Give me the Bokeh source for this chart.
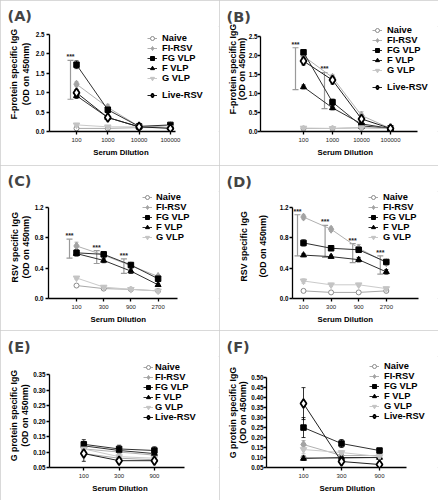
from bokeh.plotting import figure
from bokeh.models import (Range1d, FixedTicker, Legend, LegendItem, Whisker, TeeHead,
                          ColumnDataSource, PrintfTickFormatter, Title)
from bokeh.layouts import column, row
from bokeh.core.properties import value
from bokeh.embed import file_html
from bokeh.resources import INLINE

# ---------------- data ----------------
series = ["Naive", "FI-RSV", "FG VLP", "F VLP", "G VLP", "Live-RSV"]

dil_ab = ["100", "1000", "10000", "100000"]
dil_cd = ["100", "300", "900", "2700"]
dil_ef = ["100", "300", "900"]

# (A) F-protein specific IgG
a_naive = [0.08, 0.08, 0.10, 0.10]
a_fi = [1.22, 0.62, 0.13, 0.15]
a_fg = [1.72, 0.56, 0.13, 0.17]
a_f = [0.92, 0.36, 0.12, 0.10]
a_g = [0.17, 0.12, 0.12, 0.10]
a_live = [1.00, 0.36, 0.12, 0.08]
a_err = {"Naive": [0.02, 0.01, 0.01, 0.01], "FI-RSV": [0.06, 0.08, 0.02, 0.03],
         "FG VLP": [0.10, 0.08, 0.03, 0.03], "F VLP": [0.07, 0.05, 0.02, 0.02],
         "G VLP": [0.04, 0.02, 0.02, 0.02], "Live-RSV": [0.08, 0.05, 0.03, 0.02]}
a_sig_idx = [0]
a_sig_lo = [0.83]
a_sig_hi = [1.83]

# (B) F-protein specific IgG
b_naive = [0.08, 0.08, 0.10, 0.08]
b_fi = [1.98, 1.42, 0.42, 0.08]
b_fg = [2.08, 0.77, 0.15, 0.08]
b_f = [1.17, 0.62, 0.20, 0.08]
b_g = [0.09, 0.08, 0.10, 0.08]
b_live = [1.85, 1.35, 0.33, 0.08]
b_err = {"Naive": [0.01, 0.01, 0.01, 0.01], "FI-RSV": [0.05, 0.08, 0.10, 0.02],
         "FG VLP": [0.05, 0.08, 0.03, 0.02], "F VLP": [0.05, 0.05, 0.04, 0.02],
         "G VLP": [0.02, 0.02, 0.02, 0.02], "Live-RSV": [0.10, 0.10, 0.06, 0.02]}
b_sig_idx = [0, 1]
b_sig_lo = [1.10, 0.60]
b_sig_hi = [2.20, 1.55]

# (C) RSV specific IgG
c_naive = [0.17, 0.13, 0.12, 0.10]
c_fi = [0.69, 0.57, 0.43, 0.29]
c_fg = [0.60, 0.58, 0.44, 0.26]
c_f = [0.59, 0.50, 0.36, 0.18]
c_g = [0.27, 0.15, 0.12, 0.10]
c_err = {"Naive": [0.01, 0.01, 0.01, 0.01], "FI-RSV": [0.05, 0.04, 0.03, 0.02],
         "FG VLP": [0.04, 0.03, 0.03, 0.02], "F VLP": [0.03, 0.03, 0.03, 0.02],
         "G VLP": [0.02, 0.02, 0.01, 0.01]}
c_sig_idx = [0, 1, 2]
c_sig_lo = [0.53, 0.46, 0.33]
c_sig_hi = [0.78, 0.63, 0.52]

# (D) RSV specific IgG
d_naive = [0.10, 0.08, 0.08, 0.10]
d_fi = [1.07, 0.91, 0.66, 0.47]
d_fg = [0.73, 0.66, 0.64, 0.48]
d_f = [0.57, 0.55, 0.51, 0.35]
d_g = [0.23, 0.18, 0.18, 0.13]
d_err = {"Naive": [0.02, 0.01, 0.01, 0.02], "FI-RSV": [0.03, 0.03, 0.05, 0.03],
         "FG VLP": [0.04, 0.02, 0.03, 0.03], "F VLP": [0.02, 0.02, 0.03, 0.03],
         "G VLP": [0.03, 0.02, 0.02, 0.02]}
d_sig_idx = [0, 1, 2, 3]
d_sig_lo = [0.56, 0.54, 0.47, 0.32]
d_sig_hi = [1.10, 0.96, 0.72, 0.56]

# (E) G protein specific IgG
e_naive = [0.095, 0.080, 0.075]
e_fi = [0.110, 0.100, 0.090]
e_fg = [0.125, 0.110, 0.105]
e_f = [0.120, 0.105, 0.095]
e_g = [0.110, 0.085, 0.080]
e_live = [0.095, 0.072, 0.072]
e_err = {"Naive": [0.010, 0.005, 0.005], "FI-RSV": [0.010, 0.010, 0.010],
         "FG VLP": [0.015, 0.012, 0.012], "F VLP": [0.010, 0.010, 0.010],
         "G VLP": [0.010, 0.010, 0.010], "Live-RSV": [0.025, 0.005, 0.005]}

# (F) G protein specific IgG
f_naive = [0.100, 0.095, 0.100]
f_fi = [0.165, 0.110, 0.110]
f_fg = [0.250, 0.170, 0.135]
f_f = [0.095, 0.100, 0.100]
f_g = [0.140, 0.125, 0.105]
f_live = [0.370, 0.080, 0.065]
f_err = {"Naive": [0.005, 0.005, 0.005], "FI-RSV": [0.020, 0.010, 0.010],
         "FG VLP": [0.050, 0.020, 0.010], "F VLP": [0.010, 0.010, 0.010],
         "G VLP": [0.020, 0.010, 0.010], "Live-RSV": [0.080, 0.010, 0.005]}

# ---------------- styles / layout ----------------
COL_W = 219
ROW_H = [165, 165, 170]
FONT = "Liberation Sans"
YL_FS = 8.8      # y-label font size
XL_FS = 7.8
ROWH = 10        # legend row height

STY = {
    "Naive":    dict(marker="circle", size=5, fill="white", mline="#8a8a8a", mw=1.0, line="#a8a8a8"),
    "FI-RSV":   dict(marker="diamond", size=8, fill="#a3a3a3", mline="#a3a3a3", mw=1.0, line="#b0b0b0"),
    "FG VLP":   dict(marker="square", size=5.5, fill="black", mline="black", mw=1.0, line="#303030"),
    "F VLP":    dict(marker="triangle", size=6, fill="black", mline="black", mw=1.0, line="#303030"),
    "G VLP":    dict(marker="inverted_triangle", size=6.5, fill="#c4c4c4", mline="#c4c4c4", mw=1.0, line="#cacaca"),
    "Live-RSV": dict(marker="diamond", size=9, fill="white", mline="black", mw=1.8, line="#202020"),
}

# Arial/Liberation Sans Bold advance widths (per 1000 em) for label length estimates
AW = {" ": 278, "(": 333, ")": 333, "-": 333, ".": 278, "0": 556, "4": 556, "5": 556,
      "D": 722, "F": 611, "G": 778, "I": 278, "O": 778, "R": 722, "S": 667, "V": 667,
      "c": 556, "e": 556, "f": 333, "g": 611, "i": 278, "m": 889, "n": 611, "o": 611,
      "p": 611, "r": 389, "s": 556, "t": 333, "u": 611, "l": 278}


def tw(s, fs):
    return sum(AW.get(ch, 600) for ch in s) / 1000.0 * fs


# axis geometry in panel pixels; s2/s1 = standoffs of the two y-label lines, ft = frame top
GEOM = {
    "A": dict(left=49, right=175, top=34, bottom=132, x0=76, dx=31.3, mls=2, ft=26,
              s2=0, s1=0, yc=74.5, xl=92.7, sig_dx=-6, tb=28),
    "B": dict(left=41, right=198, top=34, bottom=131, x0=84, dx=29, mls=0, ft=24,
              s2=-6, s1=0, yc=68.5, xl=98, sig_dx=-8, tb=28),
    "C": dict(left=48, right=177, top=41.7, bottom=133.3, x0=76, dx=27.2, mls=2, ft=26,
              s2=-2, s1=0, yc=81.7, xl=90, sig_dx=-7, tb=28),
    "D": dict(left=72.7, right=199, top=41.7, bottom=133.3, x0=84, dx=27.6, mls=1, ft=26,
              s2=14, s1=0, yc=80.8, xl=98, sig_dx=-6, tb=30),
    "E": dict(left=49.3, right=184, top=44.3, bottom=137.3, x0=83.3, dx=35.3, mls=1, ft=26,
              s2=-2, s1=0, yc=85, xl=91.7, sig_dx=-6, tb=30),
    "F": dict(left=46.7, right=187, top=47.7, bottom=140, x0=84, dx=38, mls=0, ft=26,
              s2=-3, s1=0, yc=85, xl=100, sig_dx=-6, tb=30),
}
LEG = {
    "A": dict(gx=147, tx=162, y0=41.7, live=98.3),
    "B": dict(gx=153, tx=168, y0=32, live=89),
    "C": dict(gx=142, tx=156, y0=34.3, live=None),
    "D": dict(gx=149, tx=164, y0=34.3, live=None),
    "E": dict(gx=143, tx=155, y0=39.3, live=None),
    "F": dict(gx=150, tx=165, y0=41.7, live=None),
}


def make_legend(items, gx, tx, center0, L, B):
    n = len(items)
    gw = 10
    top = center0 - ROWH / 2 - 2.5
    return Legend(items=items, location=(gx - L, B - (top + n * ROWH)),
                  orientation="vertical", padding=0, margin=0, spacing=0,
                  glyph_width=gw, glyph_height=ROWH, label_height=ROWH,
                  label_standoff=round(tx - gx - gw),
                  label_text_font=FONT, label_text_font_style="bold",
                  label_text_font_size="9.3px", label_text_color="black",
                  border_line_color=None, background_fill_alpha=0)


def make_panel(letter, rowi, ylabel, cats, data, errs, ylim, yticks, yfmt,
               sig_idx=None, sig_lo=None, sig_hi=None):
    g = GEOM[letter]
    W = COL_W
    H = ROW_H[rowi]
    FT = g["ft"]
    L = round(g["left"])
    B = round(g["bottom"])
    ymin, ymax = ylim
    ppu = (g["bottom"] - g["top"]) / (ymax - ymin)
    yend = ymax + (g["top"] - FT) / ppu
    xs = (L - g["x0"]) / g["dx"]
    xe = (W - g["x0"]) / g["dx"]
    xaxis_end = (g["right"] - g["x0"]) / g["dx"]
    p = figure(width=W, height=H, x_range=Range1d(xs, xe), y_range=Range1d(ymin, yend),
               output_backend="svg", toolbar_location=None, title="(%s)" % letter,
               min_border_left=L, min_border_right=0,
               min_border_top=FT, min_border_bottom=H - B,
               styles={"outline": "1px solid #cccccc", "outline-offset": "-1px"})
    p.title.text_font = "DejaVu Sans"
    p.title.text_font_size = "14.5px"
    p.title.text_font_style = "bold"
    p.title.align = "left"
    p.title.vertical_align = "top"
    p.title.offset = 7 - L
    p.title.standoff = max(0, round(FT + 3 - g["tb"]))
    p.outline_line_color = None
    p.xgrid.visible = False
    p.ygrid.visible = False

    for ax in (p.xaxis[0], p.yaxis[0]):
        ax.axis_line_color = "black"
        ax.axis_line_width = 1.3
        ax.major_tick_line_color = "black"
        ax.major_tick_line_width = 1.3
        ax.major_tick_out = 3
        ax.major_tick_in = 0
        ax.minor_tick_line_color = None
        ax.major_label_text_font = FONT
        ax.axis_label = None
    xa = p.xaxis[0]
    xa.bounds = (xs, xaxis_end)
    xa.ticker = FixedTicker(ticks=list(range(len(cats))))
    xa.major_label_overrides = {i: c for i, c in enumerate(cats)}
    xa.major_label_text_font_size = "6px"
    xa.major_label_text_color = "#222222"
    xa.major_label_standoff = 3
    ya = p.yaxis[0]
    ya.bounds = (ymin, ymax)
    ya.ticker = FixedTicker(ticks=yticks)
    ya.formatter = PrintfTickFormatter(format=yfmt)
    ya.major_label_text_font_size = "6.3px"
    ya.major_label_text_font_style = "bold"
    ya.major_label_text_color = "black"
    ya.major_label_standoff = g["mls"]

    # y label as two stacked side titles (inner line first)
    line2 = "(OD on 450nm)"
    for txt, st in ((line2, g["s2"]), (ylabel, g["s1"])):
        t = Title(text=txt, align="left", vertical_align="top",
                  offset=B - (g["yc"] + tw(txt, YL_FS) / 2), standoff=st,
                  text_font=FONT, text_font_style="bold", text_font_size="%.1fpx" % YL_FS,
                  text_color="black")
        p.add_layout(t, "left")
    # x label as a side title below the axis
    xt = Title(text="Serum Dilution", align="left", vertical_align="bottom",
               offset=g["xl"] - L, standoff=3, text_font=FONT, text_font_style="bold",
               text_font_size="%.1fpx" % XL_FS, text_color="black")
    p.add_layout(xt, "below")

    x = list(range(len(cats)))
    if sig_idx:
        off = g["sig_dx"] / g["dx"]
        ssrc = ColumnDataSource(dict(x=[i + off for i in sig_idx], lo=sig_lo, hi=sig_hi,
                                     t=["***"] * len(sig_idx)))
        p.add_layout(Whisker(source=ssrc, base="x", upper="hi", lower="lo",
                             line_color="#9a9a9a", line_width=1.2,
                             upper_head=TeeHead(size=6, line_color="#9a9a9a", line_width=1.2),
                             lower_head=TeeHead(size=6, line_color="#9a9a9a", line_width=1.2)))
        p.text(x="x", y="hi", text="t", source=ssrc, text_font=value(FONT),
               text_font_style="bold", text_font_size="7px", text_align="center",
               text_baseline="bottom", y_offset=0, text_color="#222222")

    items = {}
    for name in data:
        ys = data[name]
        st = STY[name]
        es = errs[name]
        esrc = ColumnDataSource(dict(x=x, lo=[v - e for v, e in zip(ys, es)],
                                     hi=[v + e for v, e in zip(ys, es)]))
        ec = st["mline"] if name != "Naive" else "#9a9a9a"
        p.add_layout(Whisker(source=esrc, base="x", upper="hi", lower="lo",
                             line_color=ec, line_width=0.8,
                             upper_head=TeeHead(size=4, line_color=ec, line_width=0.8),
                             lower_head=TeeHead(size=4, line_color=ec, line_width=0.8)))
        lr = p.line(x, ys, line_color=st["line"], line_width=1)
        sr = p.scatter(x, ys, marker=st["marker"], size=st["size"], fill_color=st["fill"],
                       line_color=st["mline"], line_width=st["mw"])
        items[name] = LegendItem(label=name, renderers=[lr, sr])

    lg = LEG[letter]
    names = [n for n in data if n != "Live-RSV"] if lg["live"] else list(data)
    p.add_layout(make_legend([items[n] for n in names], lg["gx"], lg["tx"], lg["y0"], L, B),
                 "center")
    if lg["live"]:
        p.add_layout(make_legend([items["Live-RSV"]], lg["gx"], lg["tx"], lg["live"], L, B),
                     "center")
    return p


def pack(*cols):
    return {n: c for n, c in zip(series, cols)}


pA = make_panel("A", 0, "F-protein specific IgG", dil_ab,
                pack(a_naive, a_fi, a_fg, a_f, a_g, a_live), a_err,
                (0, 2.5), [0, 0.5, 1.0, 1.5, 2.0, 2.5], "%.1f", a_sig_idx, a_sig_lo, a_sig_hi)
pB = make_panel("B", 0, "F-protein specific IgG", dil_ab,
                pack(b_naive, b_fi, b_fg, b_f, b_g, b_live), b_err,
                (0, 2.5), [0, 0.5, 1.0, 1.5, 2.0, 2.5], "%.1f", b_sig_idx, b_sig_lo, b_sig_hi)
pC = make_panel("C", 1, "RSV specific IgG", dil_cd,
                pack(c_naive, c_fi, c_fg, c_f, c_g), c_err,
                (0, 1.2), [0, 0.4, 0.8, 1.2], "%.1f", c_sig_idx, c_sig_lo, c_sig_hi)
pD = make_panel("D", 1, "RSV specific IgG", dil_cd,
                pack(d_naive, d_fi, d_fg, d_f, d_g), d_err,
                (0, 1.2), [0, 0.4, 0.8, 1.2], "%.1f", d_sig_idx, d_sig_lo, d_sig_hi)
pE = make_panel("E", 2, "G protein specific IgG", dil_ef,
                pack(e_naive, e_fi, e_fg, e_f, e_g, e_live), e_err,
                (0.05, 0.35), [0.05, 0.10, 0.15, 0.20, 0.25, 0.30, 0.35], "%.2f")
pF = make_panel("F", 2, "G protein specific IgG", dil_ef,
                pack(f_naive, f_fi, f_fg, f_f, f_g, f_live), f_err,
                (0.05, 0.50), [0.05, 0.10, 0.15, 0.20, 0.25, 0.30, 0.35, 0.40, 0.45, 0.50], "%.2f")

layout = column(row(pA, pB), row(pC, pD), row(pE, pF))
open("out.html", "w").write(file_html(layout, INLINE))
